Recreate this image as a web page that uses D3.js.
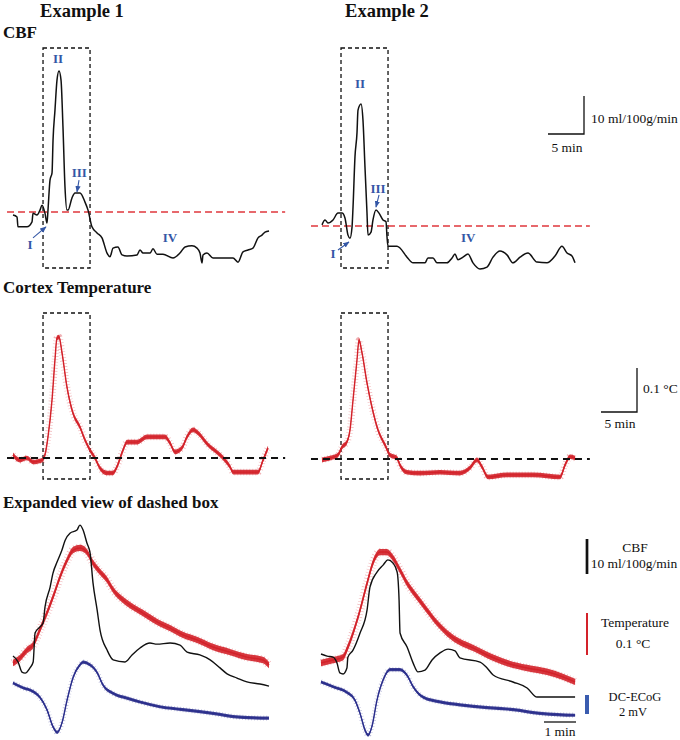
<!DOCTYPE html>
<html><head><meta charset="utf-8">
<script src="https://cdn.jsdelivr.net/npm/d3@7"></script>
<style>body{margin:0;background:#fff}svg{display:block}text{font-family:"Liberation Serif","Times New Roman",serif}</style>
</head><body>
<script>
// ---------- DATA (time in min, values relative to baseline) ----------
// CBF overview (ml/100g/min)
const cbf1 = [[0,-0.8],[0.56,-1.3],[0.69,-3.9],[1.94,-3.9],[2.64,-2.6],[2.78,-0.3],[3.33,-0.8],[3.75,0.5],[4.03,1.8],[4.44,-0.3],[4.72,-2.9],[4.86,0.5],[5.14,8.4],[5.42,10.3],[5.56,18.9],[5.83,26.8],[6.11,34.7],[6.39,37.1],[6.67,34.7],[6.94,22.4],[7.22,6.6],[7.5,0.5],[7.64,0.5],[8.19,3.7],[8.61,5.0],[9.31,5.0],[10.0,2.6],[10.42,0.5],[10.97,-3.9],[11.67,-5.5],[12.36,-6.8],[13.06,-10.8],[13.47,-11.8],[13.89,-9.5],[14.58,-9.2],[15.14,-11.3],[15.83,-11.6],[17.22,-11.3],[17.64,-10.0],[18.06,-10.8],[19.03,-10.8],[19.44,-9.7],[20.0,-11.1],[20.83,-11.1],[22.22,-12.1],[23.19,-10.8],[23.89,-9.2],[24.86,-8.9],[25.56,-9.5],[25.97,-10.8],[26.25,-13.4],[26.39,-11.3],[26.94,-10.8],[27.78,-12.1],[29.72,-12.1],[30.56,-12.1],[31.25,-13.2],[31.94,-10.5],[32.64,-10.0],[33.33,-9.5],[34.03,-6.8],[34.58,-6.1],[35.0,-5.3],[35.56,-5.0]];
const cbf2 = [[0,0.3],[0.42,1.6],[0.83,0.8],[1.53,1.6],[2.22,3.4],[2.78,3.4],[3.19,2.1],[3.61,-2.4],[3.89,-3.2],[4.17,-0.3],[4.31,5.0],[4.58,18.2],[4.86,24.5],[5.0,30.5],[5.42,32.1],[5.69,27.9],[5.97,15.5],[6.25,3.4],[6.39,-2.4],[6.81,-1.6],[7.08,1.6],[7.5,4.2],[7.92,3.4],[8.47,1.6],[8.89,1.1],[9.03,-2.9],[9.17,-5.3],[10.42,-5.3],[10.83,-5.8],[11.81,-8.2],[12.64,-9.7],[14.31,-9.7],[14.72,-8.4],[15.42,-8.4],[15.97,-9.7],[17.36,-9.7],[18.06,-8.4],[18.47,-7.4],[18.89,-8.9],[19.58,-8.2],[20.28,-7.4],[20.97,-9.7],[21.94,-11.3],[22.92,-10.8],[23.75,-8.2],[24.72,-6.6],[25.69,-7.6],[26.53,-9.7],[27.5,-8.2],[28.61,-7.1],[29.86,-9.5],[31.25,-9.7],[32.36,-7.9],[33.33,-5.3],[34.03,-7.1],[34.72,-7.9],[35.14,-9.7]];
// Cortex temperature overview (°C)
const temp1 = [[0,0.007],[0.97,-0.005],[1.94,0],[2.78,-0.009],[4.03,-0.005],[4.44,0.007],[4.86,0.048],[5.42,0.132],[5.83,0.223],[6.11,0.273],[6.39,0.275],[6.81,0.239],[7.5,0.161],[8.33,0.102],[9.31,0.070],[10.0,0.041],[10.69,0.018],[11.39,0],[12.08,-0.023],[13.06,-0.034],[13.89,-0.034],[14.44,-0.020],[15.28,0.018],[15.83,0.036],[17.22,0.036],[18.61,0.048],[20.0,0.048],[21.11,0.048],[21.81,0.034],[22.5,0.014],[23.47,0.023],[24.17,0.048],[25.0,0.064],[25.69,0.057],[27.08,0.030],[28.75,0.007],[30.14,-0.020],[30.56,-0.032],[32.5,-0.032],[34.03,-0.032],[34.72,-0.005],[35.42,0.023]];
const temp2 = [[0,-0.002],[1.11,0.002],[2.22,0.009],[2.78,0.027],[3.47,0.039],[3.89,0.066],[4.31,0.134],[4.86,0.225],[5.14,0.270],[5.56,0.241],[6.25,0.173],[6.94,0.118],[7.78,0.066],[8.75,0.032],[9.44,0.009],[10.42,0.002],[10.83,-0.014],[11.81,-0.030],[13.61,-0.032],[16.39,-0.030],[19.17,-0.032],[20.56,-0.020],[21.53,-0.002],[22.22,-0.018],[23.06,-0.041],[25.69,-0.036],[29.31,-0.036],[33.06,-0.041],[33.75,-0.014],[34.44,0.005],[35.14,0.002]];
// Dashed box (min) and baseline extent (min)
const box1 = [4.17, 10.7], box2 = [2.64, 9.17];
const base1 = [-0.83, 37.8], base2 = [-1.53, 37.2];
// Expanded view
const xCbf1 = [[0,0],[0.16,-1.7],[0.28,-4.6],[0.38,-4.9],[0.53,-3.4],[0.63,-1.7],[0.69,6.6],[0.84,8.3],[0.94,9.4],[1.0,14.0],[1.16,19.7],[1.25,23.7],[1.38,26.9],[1.53,30.3],[1.63,33.1],[1.78,35.1],[2.0,36.0],[2.09,37.4],[2.19,36.0],[2.31,32.3],[2.41,29.4],[2.5,20.9],[2.63,13.1],[2.72,7.4],[2.94,1.7],[3.13,-1.1],[3.5,-1.7],[3.72,0.3],[3.97,2.3],[4.28,3.7],[4.5,3.4],[4.91,3.7],[5.22,3.1],[5.44,1.1],[5.84,0.3],[6.16,-1.1],[6.47,-3.4],[6.69,-5.1],[7.0,-6.3],[7.31,-7.4],[7.72,-8.0],[8.0,-8.6]];
const xTemp1 = [[0,0],[0.22,0.012],[0.44,0.031],[0.63,0.043],[0.84,0.079],[1.06,0.119],[1.25,0.157],[1.47,0.205],[1.69,0.245],[1.88,0.269],[2.09,0.274],[2.31,0.264],[2.5,0.238],[2.72,0.217],[2.94,0.198],[3.13,0.174],[3.44,0.150],[3.75,0.133],[4.06,0.119],[4.5,0.098],[4.91,0.083],[5.31,0.067],[5.75,0.055],[6.25,0.038],[6.78,0.026],[7.31,0.014],[7.81,0.007],[8.0,-0.005]];
const xEcog1 = [[0,0],[0.31,-0.5],[0.63,-0.9],[0.84,-1.5],[1.06,-2.8],[1.25,-4.6],[1.38,-5.2],[1.53,-4.2],[1.69,-1.8],[1.88,0.6],[2.09,1.9],[2.19,2.2],[2.41,1.9],[2.63,1.1],[2.81,-0.2],[3.13,-1.1],[3.56,-1.6],[3.97,-2.0],[4.59,-2.5],[5.31,-2.8],[6.25,-3.2],[7.09,-3.6],[8.0,-3.7]];
const xCbf2 = [[0,0],[0.19,-0.6],[0.38,-0.9],[0.5,-2.6],[0.59,-5.4],[0.69,-5.7],[0.81,-4.0],[0.84,-0.9],[1.0,1.1],[1.22,6.0],[1.44,12.6],[1.53,19.1],[1.75,23.4],[1.94,25.4],[2.09,26.9],[2.25,26.0],[2.38,23.4],[2.44,15.4],[2.47,6.0],[2.69,2.0],[2.88,-2.6],[3.03,-5.1],[3.25,-4.6],[3.47,-1.7],[3.72,0.3],[3.97,1.4],[4.19,0.9],[4.34,-1.1],[4.97,-2.3],[5.19,-4.0],[5.38,-6.0],[6.0,-8.0],[6.44,-9.7],[6.75,-12.3],[7.25,-12.3],[7.94,-12.3]];
const xTemp2 = [[0,0],[0.38,0.007],[0.69,0.014],[0.84,0.038],[1.0,0.071],[1.22,0.126],[1.44,0.190],[1.63,0.240],[1.84,0.264],[2.06,0.264],[2.25,0.250],[2.47,0.221],[2.69,0.190],[3.0,0.157],[3.31,0.126],[3.63,0.095],[3.94,0.071],[4.34,0.050],[4.75,0.036],[5.19,0.019],[5.81,0],[6.44,-0.012],[7.06,-0.021],[7.56,-0.033],[7.94,-0.045]];
const xEcog2 = [[0,0],[0.38,-0.5],[0.81,-1.1],[1.06,-1.9],[1.22,-3.3],[1.38,-5.1],[1.47,-5.6],[1.59,-4.7],[1.75,-1.9],[1.94,0.2],[2.16,1.3],[2.47,1.3],[2.69,0.7],[2.88,-0.5],[3.19,-1.6],[3.72,-2.1],[4.34,-2.4],[5.19,-2.7],[6.0,-2.9],[6.84,-3.3],[7.94,-3.5]];
// Phase labels without arrows: [label, time(min), value]
const phases1 = [["II",6.25,39.2],["IV",21.8,-7.9]];
const phases2 = [["II",5.28,36.3],["IV",20.3,-4.2]];
// Phase labels with arrows: [label, labelT, labelV, arrow from [t,v], arrow to [t,v]]
const arrows1 = [["I",2.36,-9.7,[2.78,-6.8],[4.58,-3.9]],["III",9.2,9.2,[9.17,8.4],[8.89,5.3]]];
const arrows2 = [["I",1.53,-8.4,[2.22,-6.3],[3.75,-4.2]],["III",7.78,8.7,[7.92,8.2],[7.5,5.0]]];
const scaleCbf = {min:5, flow:10}, scaleTemp = {min:5, deg:0.1};
const legendItems = [["CBF","10 ml/100g/min"],["Temperature","0.1 °C"],["DC-ECoG","2 mV"]];

// ---------- DRAWING ----------
const W=680,H=740;
const svg=d3.select("body").append("svg").attr("width",W).attr("height",H);
const RED="#d3222a", NAVY="#2b2f8c", LBL="#3457a6", LEGBLUE="#3a5caf";
const FS=13.5;

const ovX1=d3.scaleLinear().domain([0,36]).range([13,13+36*7.2]);
const ovX2=d3.scaleLinear().domain([0,36]).range([322,322+36*7.2]);
const cY1=d3.scaleLinear().domain([0,10]).range([212,174]);
const cY2=d3.scaleLinear().domain([0,10]).range([226,188]);
const tY1=d3.scaleLinear().domain([0,0.1]).range([458,414]);
const tY2=d3.scaleLinear().domain([0,0.1]).range([459,415]);
const exX1=d3.scaleLinear().domain([0,8]).range([13,13+8*32]);
const exX2=d3.scaleLinear().domain([0,8]).range([321,321+8*32]);
const eC1=d3.scaleLinear().domain([0,10]).range([656,621]);
const eC2=d3.scaleLinear().domain([0,10]).range([654,619]);
const eT1=d3.scaleLinear().domain([0,0.1]).range([663,621]);
const eT2=d3.scaleLinear().domain([0,0.1]).range([663,621]);
const eE1=d3.scaleLinear().domain([0,2]).range([683,664]);
const eE2=d3.scaleLinear().domain([0,2]).range([682,663]);

function trace(data,x,y,color,w){
  const line=d3.line().x(d=>x(d[0])).y(d=>y(d[1])).curve(d3.curveMonotoneX);
  svg.append("path").attr("d",line(data)).attr("fill","none").attr("stroke",color).attr("stroke-width",w).attr("stroke-linejoin","round");
}
// noisy signal: vertical band of fixed half-height around the trace
function noisy(data,x,y,color,h,w){
  const area=d3.area().x(d=>x(d[0])).y0(d=>y(d[1])+h).y1(d=>y(d[1])-h).curve(d3.curveMonotoneX);
  svg.append("path").attr("d",area(data)).attr("fill",color).attr("opacity",0.9);
  const line=d3.line().x(d=>x(d[0])).y(d=>y(d[1])).curve(d3.curveMonotoneX);
  svg.append("path").attr("d",line(data)).attr("fill","none").attr("stroke",color).attr("stroke-width",w);
  svg.append("path").attr("d",line(data)).attr("fill","none").attr("stroke",color).attr("stroke-width",2*h+2)
    .attr("stroke-dasharray","0.6 2.4").attr("opacity",0.35);
}
function hline(x,y,ext,val,color,w,dash){
  svg.append("line").attr("x1",x(ext[0])).attr("x2",x(ext[1])).attr("y1",y(val)).attr("y2",y(val))
   .attr("stroke",color).attr("stroke-width",w).attr("stroke-dasharray",dash);
}
function dbox(x,b,y0,y1){
  svg.append("rect").attr("x",x(b[0])).attr("y",y0).attr("width",x(b[1])-x(b[0])).attr("height",y1-y0)
   .attr("fill","none").attr("stroke","#111").attr("stroke-width",1.3).attr("stroke-dasharray","4 3");
}
function txt(s,x,y,size,opts={}){
  return svg.append("text").attr("x",x).attr("y",y).attr("font-size",size)
   .attr("font-weight",opts.bold?"bold":"normal").attr("fill",opts.fill||"#111")
   .attr("text-anchor",opts.anchor||"start").text(s);
}

// Titles
txt("Example 1",82,17,18.5,{bold:1,anchor:"middle"});
txt("Example 2",387,17,18.5,{bold:1,anchor:"middle"});
txt("CBF",3,38,17,{bold:1});
txt("Cortex Temperature",3,293,17,{bold:1});
txt("Expanded view of dashed box",3,508,17,{bold:1});

// CBF overview
dbox(ovX1,box1,48,268); dbox(ovX2,box2,48,268);
hline(ovX1,cY1,base1,0,"#e0373c",1.6,"7 4");
hline(ovX2,cY2,base2,0,"#e0373c",1.6,"7 4");
trace(cbf1,ovX1,cY1,"#111",1.5);
trace(cbf2,ovX2,cY2,"#111",1.5);

const defs=svg.append("defs");
defs.append("marker").attr("id","ah").attr("viewBox","0 0 10 10").attr("refX",9).attr("refY",5)
 .attr("markerWidth",6).attr("markerHeight",6).attr("orient","auto")
 .append("path").attr("d","M0,1L10,5L0,9z").attr("fill",LBL);
function phaseLabels(ph,ar,x,y){
  ph.forEach(p=>txt(p[0],x(p[1]),y(p[2]),13,{bold:1,fill:LBL,anchor:"middle"}));
  ar.forEach(a=>{
    txt(a[0],x(a[1]),y(a[2]),13,{bold:1,fill:LBL,anchor:"middle"});
    svg.append("line").attr("x1",x(a[3][0])).attr("y1",y(a[3][1])).attr("x2",x(a[4][0])).attr("y2",y(a[4][1]))
     .attr("stroke",LBL).attr("stroke-width",1.1).attr("marker-end","url(#ah)");
  });
}
phaseLabels(phases1,arrows1,ovX1,cY1);
phaseLabels(phases2,arrows2,ovX2,cY2);

// CBF scale bar
{
  const x0=584, y0=134;
  const dx=ovX2(scaleCbf.min)-ovX2(0), dy=cY2(0)-cY2(scaleCbf.flow);
  svg.append("path").attr("d",`M${x0-dx},${y0}H${x0}V${y0-dy}`).attr("fill","none").attr("stroke","#111").attr("stroke-width",1.3);
  txt("10 ml/100g/min",591,123,FS);
  txt("5 min",x0-dx/2+1,152,FS,{anchor:"middle"});
}

// Temperature overview
dbox(ovX1,box1,313,479); dbox(ovX2,box2,313,479);
noisy(temp1,ovX1,tY1,RED,2.3,1.4);
noisy(temp2,ovX2,tY2,RED,2.3,1.4);
hline(ovX1,tY1,base1,0,"#111",1.8,"7 5");
hline(ovX2,tY2,base2,0,"#111",1.8,"7 5");
{
  const x0=637, y0=412;
  const dx=ovX2(scaleTemp.min)-ovX2(0), dy=tY2(0)-tY2(scaleTemp.deg);
  svg.append("path").attr("d",`M${x0-dx},${y0}H${x0}V${y0-dy}`).attr("fill","none").attr("stroke","#111").attr("stroke-width",1.3);
  txt("0.1 °C",643,393,FS);
  txt("5 min",x0-dx/2+1,428,FS,{anchor:"middle"});
}

// Expanded view
noisy(xTemp1,exX1,eT1,RED,3.2,1.5);
noisy(xEcog1,exX1,eE1,NAVY,1.6,1.4);
trace(xCbf1,exX1,eC1,"#111",1.4);
noisy(xTemp2,exX2,eT2,RED,3.2,1.5);
noisy(xEcog2,exX2,eE2,NAVY,1.6,1.4);
trace(xCbf2,exX2,eC2,"#111",1.4);

// Legend bars (lengths from the scales)
{
  const bars=[[574,eC2(0)-eC2(10),"#111",2.7],[655,eT2(0)-eT2(0.1),RED,2],[714,eE2(0)-eE2(2),LEGBLUE,4]];
  bars.forEach(b=>svg.append("line").attr("x1",587).attr("x2",587).attr("y1",b[0]).attr("y2",b[0]-b[1])
    .attr("stroke",b[2]).attr("stroke-width",b[3]));
  const ty=[[552,568],[627,648],[701,716]];
  legendItems.forEach((l,i)=>{
    const fs=i===2?12.5:FS;
    txt(l[0],635,ty[i][0],fs,{anchor:"middle"});
    txt(l[1],i===0?634:633,ty[i][1],fs,{anchor:"middle"});
  });
  const dx=exX2(1)-exX2(0);
  svg.append("line").attr("x1",576-dx).attr("x2",576).attr("y1",722).attr("y2",722).attr("stroke","#111").attr("stroke-width",1.3);
  txt("1 min",576-dx/2,736,FS,{anchor:"middle"});
}
</script>
</body></html>
